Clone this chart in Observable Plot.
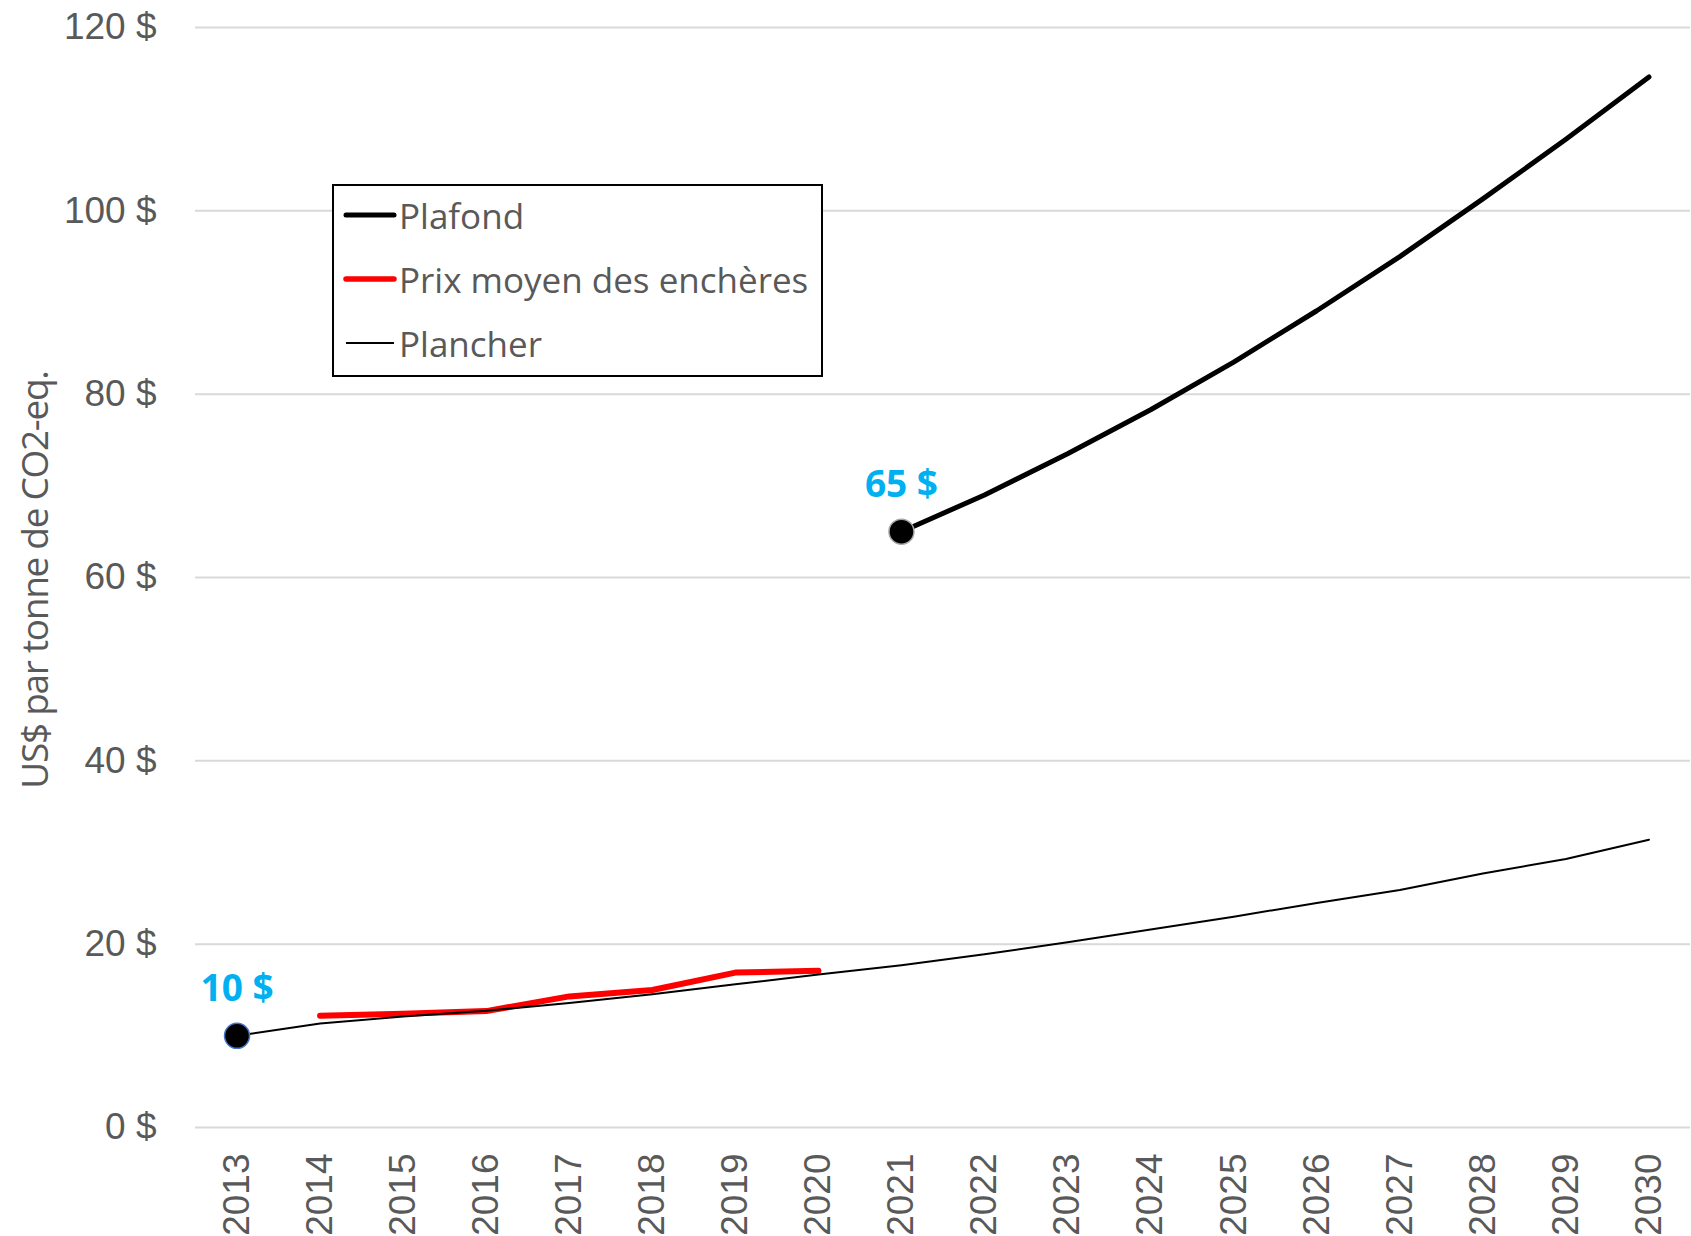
<!DOCTYPE html>
<html><head><meta charset="utf-8">
<script src="https://cdn.jsdelivr.net/npm/d3@7"></script>
<script src="https://cdn.jsdelivr.net/npm/@observablehq/plot@0.6"></script>
<style>
body{margin:0;background:#fff;}
#wrap{position:relative;width:1691px;height:1236px;overflow:hidden;background:#fff;}
#legend{position:absolute;left:332px;top:184px;width:487px;height:189px;border:2px solid #000;background:#fff;font-family:"Open Sans";font-size:35px;color:#595959;}
.row{position:absolute;left:8px;height:50px;display:flex;align-items:center;white-space:nowrap;}
.row svg{margin-right:1px;}
#ytitle{position:absolute;left:33px;top:580px;transform:translate(-50%,-50%) rotate(-90deg);font-family:"Open Sans";font-size:37px;color:#595959;white-space:nowrap;letter-spacing:-1.3px;}
</style>
</head><body>
<div id="wrap"></div>
<script>
// Data
const years = [2013,2014,2015,2016,2017,2018,2019,2020,2021,2022,2023,2024,2025,2026,2027,2028,2029,2030];
const plancher = [10.0,11.34,12.10,12.73,13.57,14.53,15.62,16.68,17.71,18.9,20.2,21.6,23.0,24.5,25.9,27.7,29.3,31.4];
const prixYears = [2014,2015,2016,2017,2018,2019,2020];
const prixMoyen = [12.2,12.4,12.7,14.3,15.0,16.9,17.1];
const plafondYears = [2021,2022,2023,2024,2025,2026,2027,2028,2029,2030];
const plafond = [65.0,69.0,73.5,78.3,83.5,89.1,95.0,101.3,107.8,114.6];
const annYears = [2013,2021];
const annValues = [10,65];
const annLabels = ["10 $","65 $"];
const annStroke = ["#4472c4","#a6a6a6"];
const yTicks = [0,20,40,60,80,100,120];
const seriesNames = ["Plafond","Prix moyen des enchères","Plancher"];
const yTitle = "US$ par tonne de CO2-eq.";

const plancherData = years.map((x,i)=>({x, y: plancher[i]}));
const prixData = prixYears.map((x,i)=>({x, y: prixMoyen[i]}));
const plafondData = plafondYears.map((x,i)=>({x, y: plafond[i]}));
const annData = annYears.map((x,i)=>({x, y: annValues[i], label: annLabels[i], stroke: annStroke[i]}));

const chart = Plot.plot({
  width: 1691,
  height: 1236,
  marginLeft: 195,
  marginRight: 1,
  marginTop: 27,
  marginBottom: 109,
  style: {fontFamily: "Liberation Sans", fontSize: "37px", color: "#595959", background: "#fff"},
  x: {type: "linear", domain: [2012.5, 2030.5]},
  y: {domain: [0, 120]},
  marks: [
    Plot.gridY(yTicks, {stroke: "#d9d9d9", strokeOpacity: 1, strokeWidth: 2}),
    Plot.axisY(yTicks, {tickSize: 0, tickPadding: 39, tickFormat: d => `${d} $`, fontSize: 37, fill: "#595959", label: null}),
    Plot.axisX(years, {tickSize: 0, tickPadding: 26, tickRotate: -90, tickFormat: d => String(d), fontSize: 37, fill: "#595959", label: null}),
    Plot.lineY(prixData, {x: "x", y: "y", stroke: "#ff0000", strokeWidth: 6, strokeLinecap: "round", strokeLinejoin: "round"}),
    Plot.lineY(plafondData, {x: "x", y: "y", stroke: "#000", strokeWidth: 5, strokeLinecap: "round", strokeLinejoin: "round"}),
    Plot.lineY(plancherData, {x: "x", y: "y", stroke: "#000", strokeWidth: 2}),
    Plot.dot(annData, {x: "x", y: "y", r: 12.5, fill: "#000", stroke: "stroke", strokeWidth: 1.5}),
    Plot.text(annData, {x: "x", y: "y", text: "label", dy: -35, lineAnchor: "bottom", fill: "#00b0f0", fontWeight: "bold", fontSize: 37, fontFamily: "Open Sans", letterSpacing: "-1.5px"})
  ]
});
const wrap = document.getElementById("wrap");
wrap.appendChild(chart);

// Legend overlay
const legend = document.createElement("div");
legend.id = "legend";
const swatches = [
  {stroke: "#000", w: 5, tops: 4},
  {stroke: "#ff0000", w: 5.5, tops: 68},
  {stroke: "#000", w: 2, tops: 132}
];
seriesNames.forEach((name, i) => {
  const row = document.createElement("div");
  row.className = "row";
  row.style.top = swatches[i].tops + "px";
  const cap = i < 2 ? "round" : "butt";
  row.innerHTML = `<svg width="56" height="20"><line x1="4" x2="52" y1="10" y2="10" stroke="${swatches[i].stroke}" stroke-width="${swatches[i].w}" stroke-linecap="${cap}"/></svg><span>${name}</span>`;
  legend.appendChild(row);
});
wrap.appendChild(legend);

const yt = document.createElement("div");
yt.id = "ytitle";
yt.textContent = yTitle;
wrap.appendChild(yt);
</script>
</body></html>
